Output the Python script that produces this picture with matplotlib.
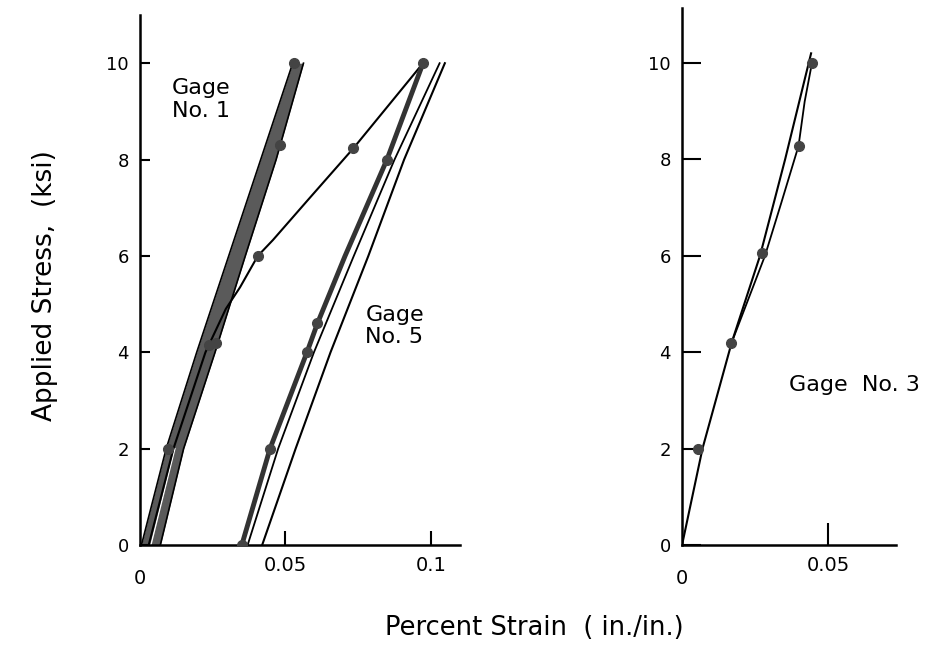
import numpy as np
import matplotlib
matplotlib.use("Agg")
import matplotlib.pyplot as plt

# ---- data (strain in in./in. percent, stress in ksi) ----
# Gage No. 1 : thick band of overlapping load/unload cycles
g1_band_y = [0, 2, 4, 6, 8, 10]
g1_band_left = [0.0005, 0.0090, 0.0195, 0.0305, 0.0415, 0.0525]
g1_band_right = [0.0070, 0.0150, 0.0258, 0.0362, 0.0468, 0.0562]
g1_pts_x = [0.0096, 0.0237, 0.0260, 0.0480, 0.0530]
g1_pts_y = [2.0, 4.15, 4.2, 8.3, 10.0]

# Gage No. 5 : first loading curve
g5_load_x = [0.0030, 0.0115, 0.0225, 0.0295, 0.0344, 0.0405, 0.0457, 0.0580, 0.0733, 0.0851, 0.0973]
g5_load_y = [0.0, 2.0, 4.0, 4.9, 5.35, 6.0, 6.33, 7.18, 8.23, 9.1, 10.0]
g5_load_pts_x = [0.0405, 0.0733, 0.0973]
g5_load_pts_y = [6.0, 8.23, 10.0]
# unloading (heavy line)
g5_unload_x = [0.0973, 0.0849, 0.0705, 0.0610, 0.0574, 0.0447, 0.0350]
g5_unload_y = [10.0, 8.0, 6.0, 4.6, 4.0, 2.0, 0.0]
g5_unload_pts_x = [0.0849, 0.0610, 0.0574, 0.0447, 0.0350]
g5_unload_pts_y = [8.0, 4.6, 4.0, 2.0, 0.0]
# reloading lines
g5_reload1_x = [0.0370, 0.0475, 0.0598, 0.0735, 0.0875, 0.1030]
g5_reload1_y = [0.0, 2.0, 4.0, 6.0, 8.0, 10.0]
g5_reload2_x = [0.0420, 0.0535, 0.0655, 0.0785, 0.0908, 0.1048]
g5_reload2_y = [0.0, 2.0, 4.0, 6.0, 8.0, 10.0]

# Gage No. 3
g3_load_x = [0.0, 0.0070, 0.0170, 0.0267, 0.0353, 0.0442]
g3_load_y = [0.0, 2.0, 4.2, 6.0, 8.0, 10.2]
g3_unload_x = [0.0445, 0.0420, 0.0399, 0.0340, 0.0284, 0.0170]
g3_unload_y = [10.0, 9.2, 8.28, 7.1, 6.0, 4.2]
g3_pts_x = [0.0055, 0.0167, 0.0275, 0.0399, 0.0445]
g3_pts_y = [2.0, 4.19, 6.06, 8.28, 10.0]

left_xticks = [0.05, 0.1]
left_xlabels = ["0.05", "0.1"]
right_xticks = [0.05]
right_xlabels = ["0.05"]
yticks = [0, 2, 4, 6, 8, 10]

# ---- figure ----
fig = plt.figure(figsize=(9.37, 6.47), dpi=100)
ax1 = fig.add_axes([0.1494, 0.1576, 0.3415, 0.8192])
ax2 = fig.add_axes([0.7279, 0.1576, 0.2284, 0.8300])

pt_style = dict(marker="o", ms=7, color="#444444", ls="none", zorder=5)

# Gage 1 band
ax1.fill_betweenx(g1_band_y, g1_band_left, g1_band_right, color="#5a5a5a", lw=0)
ax1.plot(g1_band_left, g1_band_y, color="black", lw=1.2)
ax1.plot(g1_band_right, g1_band_y, color="black", lw=1.2)
mid = (np.array(g1_band_left[:2]) + np.array(g1_band_right[:2])) / 2
ax1.plot(mid, g1_band_y[:2], color="white", lw=1.0)
ax1.plot(g1_pts_x, g1_pts_y, **pt_style)

# Gage 5
ax1.plot(g5_load_x, g5_load_y, color="black", lw=1.5)
ax1.plot(g5_load_pts_x, g5_load_pts_y, **pt_style)
ax1.plot(g5_unload_x, g5_unload_y, color="#333333", lw=3.5)
ax1.plot(g5_unload_pts_x, g5_unload_pts_y, **pt_style)
ax1.plot(g5_reload1_x, g5_reload1_y, color="black", lw=1.3)
ax1.plot(g5_reload2_x, g5_reload2_y, color="black", lw=1.5)

# Gage 3
ax2.plot(g3_load_x, g3_load_y, color="black", lw=1.5)
ax2.plot(g3_unload_x, g3_unload_y, color="black", lw=1.3)
ax2.plot(g3_pts_x, g3_pts_y, **pt_style)

# axes styling
for ax in (ax1, ax2):
    for s in ("top", "right"):
        ax.spines[s].set_visible(False)
    for s in ("left", "bottom"):
        ax.spines[s].set_linewidth(1.8)
    ax.set_yticks(yticks)
    ax.set_yticklabels([str(v) for v in yticks], fontsize=13)
    ax.tick_params(axis="both", direction="in", width=1.5, labelsize=13)

ax1.set_xlim(0, 0.11)
ax1.set_ylim(0, 11.0)
ax1.set_xticks(left_xticks)
ax1.set_xticklabels(left_xlabels, fontsize=14)
ax1.tick_params(axis="y", length=7, pad=8)
ax1.tick_params(axis="x", length=10, pad=8)

ax2.set_xlim(0, 0.0733)
ax2.set_ylim(0, 11.14)
ax2.set_xticks(right_xticks)
ax2.set_xticklabels(right_xlabels, fontsize=14)
ax2.tick_params(axis="y", length=14, pad=8)
ax2.tick_params(axis="x", length=16, pad=8)

# zero labels at the corner
for ax in (ax1, ax2):
    ax.text(0, -0.045, "0", transform=ax.get_xaxis_transform(), ha="center",
            va="top", fontsize=14)

# annotations
ax1.text(0.0110, 9.25, "Gage\nNo. 1", fontsize=16, ha="left", va="center", linespacing=1.15)
ax1.text(0.0775, 4.55, "Gage\nNo. 5", fontsize=16, ha="left", va="center", linespacing=1.15)
fig.text(0.912, 0.405, "Gage  No. 3", fontsize=16, ha="center", va="center")

fig.text(0.048, 0.558, "Applied Stress,  (ksi)", rotation=90, fontsize=19,
         ha="center", va="center")
fig.text(0.57, 0.03, "Percent Strain  ( in./in.)", fontsize=18.5, ha="center",
         va="center")

fig.savefig("out.png", dpi=100)
